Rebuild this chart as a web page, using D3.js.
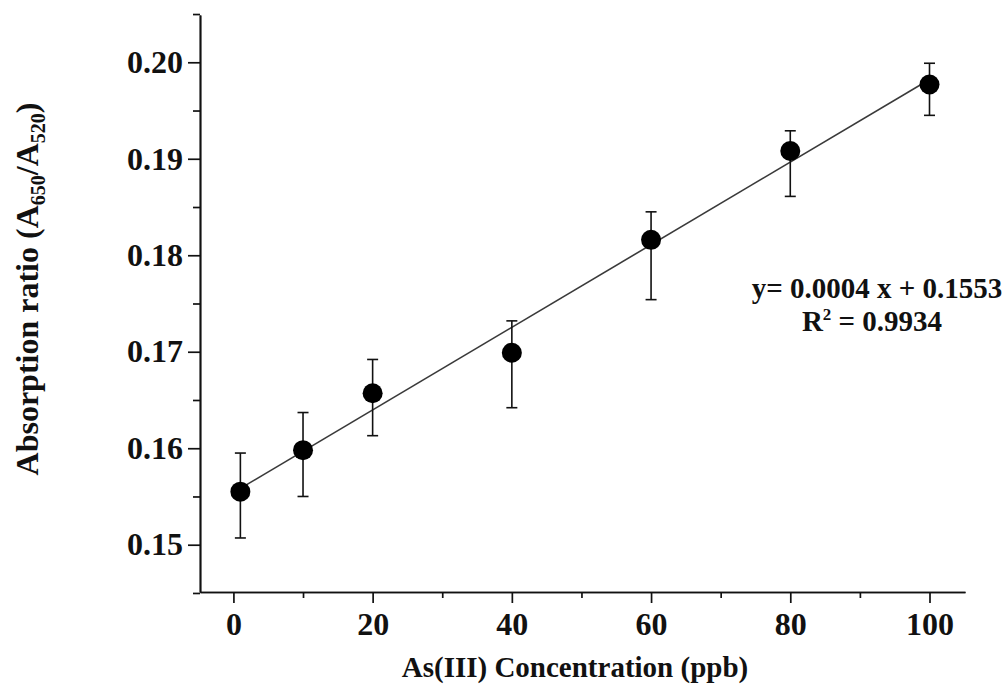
<!DOCTYPE html>
<html>
<head>
<meta charset="utf-8">
<script src="https://cdn.jsdelivr.net/npm/d3@7"></script>
<style>
	body { margin: 0; background: #fff; }
	svg text { font-family: "Liberation Serif", "Times New Roman", serif; font-weight: bold; fill: #111; }
</style>
</head>
<body>
<script>
const WIDTH = 1004;
const HEIGHT = 684;
const LEFT = 200;
const RIGHT = 965;
const TOP = 15;
const BOTTOM = 592;

// measured data (ppb, A650/A520)
var concentrations = [1, 10, 20, 40, 60, 80, 100];
var ratios = [0.1555, 0.1598, 0.1657, 0.1699, 0.1816, 0.1908, 0.1977];
var errUpper = [0.1595, 0.1637, 0.1692, 0.1732, 0.1845, 0.1929, 0.1999];
var errLower = [0.1507, 0.1550, 0.1613, 0.1642, 0.1754, 0.1861, 0.1945];

var xTicks = [0, 20, 40, 60, 80, 100];
var xMinorTicks = [10, 30, 50, 70, 90];
var yTicks = [0.15, 0.16, 0.17, 0.18, 0.19, 0.20];
var yMinorTicks = [0.145, 0.155, 0.165, 0.175, 0.185, 0.195, 0.205];

var equationText = 'y= 0.0004 x + 0.1553';
var r2Value = '0.9934';

var _svg = d3.select('body').append('svg')
	.attr('width', WIDTH)
	.attr('height', HEIGHT);

var _xScale = d3.scaleLinear()
	.domain([-4.8, 105.1])
	.range([LEFT, RIGHT]);

var _yScale = d3.scaleLinear()
	.domain([0.1451, 0.2049])
	.range([BOTTOM, TOP]);

var styleAxis = function(g){
	g.select('.domain').attr('stroke', '#111').attr('stroke-width', 1.7);
	g.selectAll('.tick line').attr('stroke', '#111').attr('stroke-width', 1.7);
	g.selectAll('.tick text').attr('font-size', 32).attr('fill', '#111')
		.attr('font-family', '"Liberation Serif", "Times New Roman", serif')
		.attr('font-weight', 'bold');
};

// x axis
_svg.append('g')
	.attr('transform', 'translate(0,' + BOTTOM + ')')
	.call(d3.axisBottom(_xScale).tickValues(xMinorTicks).tickSize(6).tickFormat('').tickSizeOuter(0))
	.call(styleAxis);
_svg.append('g')
	.attr('transform', 'translate(0,' + BOTTOM + ')')
	.call(d3.axisBottom(_xScale).tickValues(xTicks).tickSize(11).tickPadding(9).tickFormat(d3.format('d')).tickSizeOuter(0))
	.call(styleAxis);

// y axis
_svg.append('g')
	.attr('transform', 'translate(' + LEFT + ',0)')
	.call(d3.axisLeft(_yScale).tickValues(yMinorTicks).tickSize(7).tickFormat('').tickSizeOuter(0))
	.call(styleAxis);
_svg.append('g')
	.attr('transform', 'translate(' + LEFT + ',0)')
	.call(d3.axisLeft(_yScale).tickValues(yTicks).tickSize(12).tickPadding(5).tickFormat(d3.format('.2f')).tickSizeOuter(0))
	.call(styleAxis);

// linear fit through the means
var mx = d3.mean(concentrations);
var my = d3.mean(ratios);
var sxy = d3.sum(concentrations, function(d, i){ return (d - mx) * (ratios[i] - my); });
var sxx = d3.sum(concentrations, function(d){ return (d - mx) * (d - mx); });
var slope = sxy / sxx;
var intercept = my - slope * mx;
var xExt = d3.extent(concentrations);

_svg.append('line')
	.attr('x1', _xScale(xExt[0]))
	.attr('y1', _yScale(intercept + slope * xExt[0]))
	.attr('x2', _xScale(xExt[1]))
	.attr('y2', _yScale(intercept + slope * xExt[1]))
	.attr('stroke', '#3a3a3a')
	.attr('stroke-width', 1.6);

// error bars
var bars = _svg.append('g').attr('stroke', '#111').attr('stroke-width', 1.6);
concentrations.forEach(function(c, i){
	var x = _xScale(c);
	bars.append('line')
		.attr('x1', x).attr('x2', x)
		.attr('y1', _yScale(errUpper[i])).attr('y2', _yScale(errLower[i]));
	bars.append('line')
		.attr('x1', x - 5.5).attr('x2', x + 5.5)
		.attr('y1', _yScale(errUpper[i])).attr('y2', _yScale(errUpper[i]));
	bars.append('line')
		.attr('x1', x - 5.5).attr('x2', x + 5.5)
		.attr('y1', _yScale(errLower[i])).attr('y2', _yScale(errLower[i]));
});

// points
_svg.append('g')
	.selectAll('circle')
	.data(concentrations)
	.enter().append('circle')
	.attr('cx', function(d){ return _xScale(d); })
	.attr('cy', function(d, i){ return _yScale(ratios[i]); })
	.attr('r', 10)
	.attr('fill', '#000');

// equation
_svg.append('text')
	.attr('x', 877)
	.attr('y', 298)
	.attr('text-anchor', 'middle')
	.attr('font-size', 29)
	.text(equationText);

var r2 = _svg.append('text')
	.attr('x', 872)
	.attr('y', 331)
	.attr('text-anchor', 'middle')
	.attr('font-size', 29);
r2.append('tspan').text('R');
r2.append('tspan').attr('font-size', 17).attr('dy', -11).text('2');
r2.append('tspan').attr('dy', 11).text(' = ' + r2Value);

// axis titles
_svg.append('text')
	.attr('x', 575)
	.attr('y', 677)
	.attr('text-anchor', 'middle')
	.attr('font-size', 29)
	.text('As(III) Concentration (ppb)');

var yTitle = _svg.append('text')
	.attr('transform', 'translate(38,' + 289 + ') rotate(-90)')
	.attr('text-anchor', 'middle')
	.attr('font-size', 32);
yTitle.append('tspan').text('Absorption ratio (A');
yTitle.append('tspan').attr('font-size', 20).attr('dy', 7).text('650');
yTitle.append('tspan').attr('dy', -7).text('/A');
yTitle.append('tspan').attr('font-size', 20).attr('dy', 7).text('520');
yTitle.append('tspan').attr('dy', -7).text(')');
</script>
</body>
</html>
